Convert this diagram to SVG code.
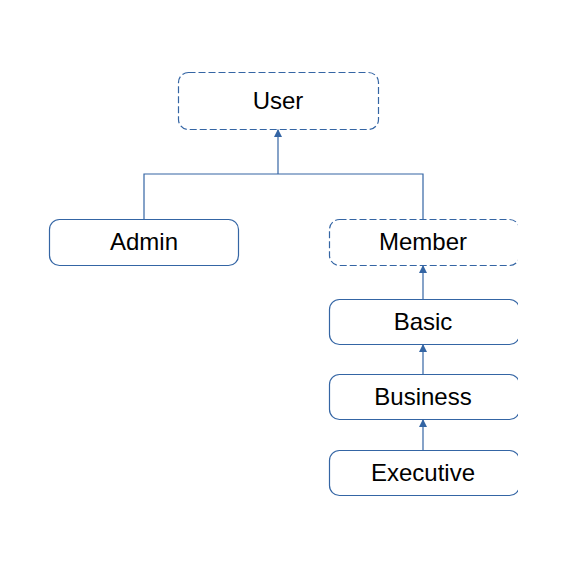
<svg xmlns="http://www.w3.org/2000/svg" width="567" height="567" viewBox="0 0 567 567">
  <defs>
    <style>
      .box { fill: #ffffff; stroke: #3465a4; stroke-width: 1.2; }
      .dash { stroke-dasharray: 7 3; }
      .lbl { font-family: "Liberation Sans", Arial, sans-serif; font-size: 24px; fill: #000000; text-anchor: middle; }
      .conn { fill: none; stroke: #3465a4; stroke-width: 1.2; }
    </style>
    <marker id="arr" viewBox="0 0 10 10" refX="10" refY="5" markerWidth="8" markerHeight="8" markerUnits="userSpaceOnUse" orient="auto">
      <path d="M0,0 L10,5 L0,10 Z" fill="#3465a4"/>
    </marker>
    <clipPath id="clipR">
      <rect x="0" y="0" width="518" height="567"/>
    </clipPath>
  </defs>
  <rect width="567" height="567" fill="#ffffff"/>
  <g id="connectors">
    <path class="conn" d="M144,219 V174 H423 V219"/>
    <path class="conn" d="M278,174 V129" marker-end="url(#arr)"/>
    <path class="conn" d="M423,299 V265" marker-end="url(#arr)"/>
    <path class="conn" d="M423,374 V344" marker-end="url(#arr)"/>
    <path class="conn" d="M423,450 V419" marker-end="url(#arr)"/>
  </g>
  <g id="user">
    <rect class="box dash" x="178.5" y="72.5" width="200" height="57" rx="10"/>
    <text class="lbl" x="278" y="109">User</text>
  </g>
  <g id="admin">
    <rect class="box" x="49.5" y="219.5" width="189" height="46" rx="10"/>
    <text class="lbl" x="144" y="250">Admin</text>
  </g>
  <g clip-path="url(#clipR)">
    <g id="member">
      <rect class="box dash" x="329.5" y="219.5" width="190" height="46" rx="10"/>
      <text class="lbl" x="423" y="250">Member</text>
    </g>
    <g id="basic">
      <rect class="box" x="329.5" y="299.5" width="190" height="45" rx="10"/>
      <text class="lbl" x="423" y="330">Basic</text>
    </g>
    <g id="business">
      <rect class="box" x="329.5" y="374.5" width="190" height="45" rx="10"/>
      <text class="lbl" x="423" y="405">Business</text>
    </g>
    <g id="executive">
      <rect class="box" x="329.5" y="450.5" width="190" height="45" rx="10"/>
      <text class="lbl" x="423" y="481">Executive</text>
    </g>
  </g>
</svg>
